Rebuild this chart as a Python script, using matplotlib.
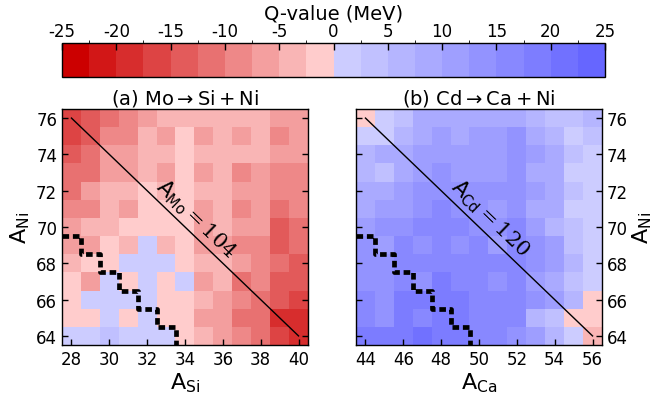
import numpy as np
import matplotlib
matplotlib.use("Agg")
import matplotlib.pyplot as plt
from matplotlib.colors import ListedColormap, BoundaryNorm

plt.rcParams["axes.unicode_minus"] = False

# ---------------- data ----------------
a_si = list(range(28, 41))          # columns of panel (a)
a_ca = list(range(44, 57))          # columns of panel (b)
a_ni = list(range(76, 63, -1))      # rows (top -> bottom)

# Q-values (MeV), panel (a): Mo -> Si + Ni, rows A_Ni = 76 ... 64
q_mo = [
    [-16, -14, -11, -9, -6, -4, -4, -4, -4, -4, -4, -6, -6],
    [-16, -14, -9, -9, -4, -6, -1, -6, -4, -6, -4, -9, -6],
    [-14, -12, -6, -6, -4, -4, -1, -4, -4, -4, -4, -6, -6],
    [-11, -11, -6, -6, -4, -6, -1, -6, -4, -9, -6, -9, -9],
    [-11, -6, -4, -4, -1, -4, -1, -4, -4, -6, -6, -9, -9],
    [-9, -9, -4, -6, -1, -1, -1, -6, -4, -9, -6, -11, -9],
    [-6, -4, -4, -1, -1, -1, -1, -6, -4, -6, -6, -14, -11],
    [-6, -6, -1, -4, 1, -4, -1, -6, -6, -9, -9, -14, -11],
    [-4, -1, -1, 1, 1, 1, -1, -4, -4, -6, -9, -11, -14],
    [-1, -6, 1, -1, 1, -1, 1, -6, -4, -11, -9, -14, -14],
    [-1, 1, 1, 1, 1, -1, -1, -4, -6, -9, -11, -14, -16],
    [-1, -1, 1, -1, 1, -1, -1, -6, -6, -11, -11, -19, -19],
    [1, 1, 4, 1, 1, 1, -1, -4, -6, -9, -11, -16, -19],
]

# Q-values (MeV), panel (b): Cd -> Ca + Ni, rows A_Ni = 76 ... 64
q_cd = [
    [-1, 1, 4, 8, 9, 9, 9, 9, 9, 6, 4, 4, 6],
    [1, 1, 6, 8, 11, 9, 11, 10, 14, 8, 6, 1, 4],
    [6, 9, 8, 11, 11, 11, 11, 11, 14, 11, 8, 4, 1],
    [6, 4, 9, 11, 14, 11, 11, 10, 14, 8, 8, 1, 1],
    [9, 9, 11, 14, 14, 14, 14, 14, 14, 11, 8, 4, 1],
    [9, 11, 11, 14, 16, 14, 14, 11, 14, 8, 8, 1, 1],
    [11, 14, 14, 16, 16, 16, 14, 14, 16, 11, 6, 4, 1],
    [14, 11, 16, 14, 16, 14, 16, 11, 16, 14, 11, 4, 1],
    [14, 14, 16, 16, 16, 16, 16, 16, 16, 14, 11, 6, 1],
    [14, 14, 16, 14, 19, 16, 16, 14, 16, 11, 9, 4, 1],
    [16, 14, 19, 19, 19, 19, 16, 16, 16, 14, 11, 6, -1],
    [16, 14, 19, 16, 19, 19, 17, 16, 16, 6, 4, -1, -1],
    [19, 19, 19, 21, 19, 19, 16, 16, 14, 11, 6, 1, -4],
]

parent_a = 104   # A_Mo
parent_b = 120   # A_Cd

# staircase (dashed) boundaries
stair_a_x = [27.5, 28.5, 29.5, 30.5, 31.5, 32.5, 33.5]
stair_b_x = [43.5, 44.5, 45.5, 46.5, 47.5, 48.5, 49.5]
stair_y = [69.5, 68.5, 67.5, 66.5, 65.5, 64.5, 63.5]

cbar_ticks = list(range(-25, 30, 5))

# ---------------- colormap ----------------
neg_lo = np.array([0.8, 0.0, 0.0])
neg_hi = np.array([1.0, 0.8, 0.8])
pos_lo = np.array([0.8, 0.8, 1.0])
pos_hi = np.array([0.4, 0.4, 1.0])
cols = [neg_lo + (neg_hi - neg_lo) * k / 9 for k in range(10)] + \
       [pos_lo + (pos_hi - pos_lo) * k / 9 for k in range(10)]
cmap = ListedColormap(cols)
bounds = np.arange(-25, 25.01, 2.5)
norm = BoundaryNorm(bounds, cmap.N)

# ---------------- figure ----------------
W, H = 657, 406
fig = plt.figure(figsize=(W / 100, H / 100), dpi=100)

def fr(x0, y0, x1, y1):
    return [x0 / W, 1 - y1 / H, (x1 - x0) / W, (y1 - y0) / H]

ax_a = fig.add_axes(fr(62, 110, 308, 346))
ax_b = fig.add_axes(fr(356, 110, 602, 346))
cax = fig.add_axes(fr(62, 44, 605, 78))

panels = [
    (ax_a, a_si, q_mo, parent_a, stair_a_x, "Mo", "Si", "(a) $\\mathrm{Mo}\\rightarrow\\mathrm{Si}+\\mathrm{Ni}$", "left"),
    (ax_b, a_ca, q_cd, parent_b, stair_b_x, "Cd", "Ca", "(b) $\\mathrm{Cd}\\rightarrow\\mathrm{Ca}+\\mathrm{Ni}$", "right"),
]

for ax, xs, q, parent, sx, pname, xname, title, side in panels:
    data = np.array(q, dtype=float)
    ext = (xs[0] - 0.5, xs[-1] + 0.5, a_ni[-1] - 0.5, a_ni[0] + 0.5)
    im = ax.imshow(data, cmap=cmap, norm=norm, extent=ext, origin="upper",
                   aspect="auto", interpolation="nearest")
    # diagonal line of fixed parent mass number
    lx = np.array([xs[0], xs[-1]])
    ax.plot(lx, parent - lx, color="black", lw=1.0)
    # staircase
    ax.step(sx, stair_y, where="post", color="black", lw=3.4,
            linestyle=(0, (1.4, 0.8)))
    ax.set_xlim(ext[0], ext[1])
    ax.set_ylim(ext[2], ext[3])
    ax.set_xticks(xs[::2])
    ax.set_yticks(a_ni[::-1][::2])
    ax.tick_params(direction="in", length=4, width=1, labelsize=12,
                   left=True, right=True, top=False, bottom=True)
    if side == "right":
        ax.yaxis.set_label_position("right")
        ax.tick_params(labelleft=False, labelright=True)
        ax.set_ylabel("$\\mathrm{A}_{\\mathrm{Ni}}$", fontsize=16, labelpad=2)
    else:
        ax.set_ylabel("$\\mathrm{A}_{\\mathrm{Ni}}$", fontsize=16, labelpad=3)
    ax.set_xlabel("$\\mathrm{A}_{\\mathrm{%s}}$" % xname, fontsize=16, labelpad=2)
    ax.set_title(title, fontsize=14, pad=4)
    mid = xs[0] + 6.6
    ax.text(mid, parent - mid + 1.1, "$\\mathsf{A}_{\\mathsf{%s}}=%d$" % (pname, parent),
            rotation=-44, ha="center", va="center", fontsize=15,
            math_fontfamily="dejavuserif")
    for s in ax.spines.values():
        s.set_linewidth(1.0)

cb = fig.colorbar(im, cax=cax, orientation="horizontal", ticks=cbar_ticks)
cax.xaxis.set_ticks_position("top")
cax.xaxis.set_label_position("top")
cax.tick_params(direction="in", length=5, width=1, labelsize=12, pad=2)
cb.set_label("Q-value (MeV)", fontsize=14, labelpad=3)
cb.outline.set_linewidth(1.0)

fig.savefig("out.png", dpi=100)
